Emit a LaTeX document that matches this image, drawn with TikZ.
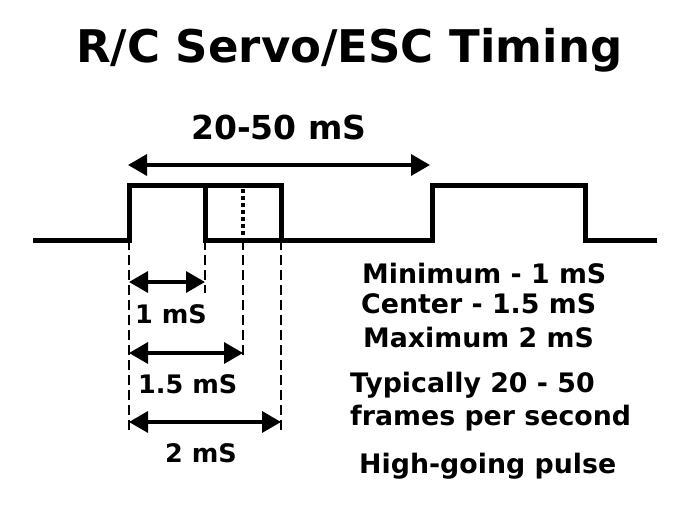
\documentclass[tikz,border=0pt]{standalone}
\usepackage{fontspec}
\setmainfont{DejaVu Sans}
\usetikzlibrary{arrows.meta,positioning}

\tikzset{
  wave/.style={line width=5pt, line join=miter},
  guide/.style={line width=1.5pt, dash pattern=on 10pt off 5pt},
  dim/.style={line width=3.5pt, {Triangle[length=19pt,width=21pt]}-{Triangle[length=19pt,width=21pt]}},
  lbl/.style={font=\bfseries\fontsize{25.5}{30}\selectfont, inner sep=0pt, anchor=base west},
  note/.style={lbl, font=\bfseries\fontsize{26.8}{30}\selectfont},
}

\begin{document}
\begin{tikzpicture}[x=1pt,y=-1pt]
  \useasboundingbox (0,0) rectangle (697,504);
  % time marks on the low level
  \coordinate (t0) at (129,240);
  \coordinate (t1) at (205,240);
  \coordinate (t15) at (243,240);
  \coordinate (t2) at (281,240);
  \coordinate (tf) at (432,240);
  % signal
  \draw[wave] (33,240) -- (t0) -- (129,185) -- (281,185) -- (t2);
  \draw[wave] (205,185) -- (t1) -- (tf) -- (432,185) -- (585,185) -- (585,240) -- (657,240);
  \draw[line width=3.5pt, dash pattern=on 4pt off 3pt] (243,189) -- (t15);
  % guides
  \coordinate (g0) at (129,432);
  \coordinate (g1) at (205,293);
  \coordinate (g15) at (243,357);
  \coordinate (g2) at (281,432);
  \draw[guide] (t0) -- (g0);
  \draw[guide] (t1) -- (g1);
  \draw[guide] (t15) -- (g15);
  \draw[guide] (t2) -- (g2);
  % widths
  \coordinate (f0) at (128,165);
  \coordinate (f1) at (430,165);
  \draw[dim] (f0) -- (f1);
  \draw[dim] (129,282) coordinate (a0) -- (205,282) coordinate (a1);
  \draw[dim] (129,353) coordinate (b0) -- (243,353) coordinate (b1);
  \draw[dim] (129,422) coordinate (c0) -- (281,422) coordinate (c1);
  % labels
  \node[lbl, font=\bfseries\fontsize{45}{50}\selectfont] (title) at (76,62) {R/C Servo/ESC Timing};
  \node[lbl, font=\bfseries\fontsize{33}{38}\selectfont] (frame) at (191,139) {20-50 mS};
  \node[lbl] (one) at (135,323) {1 mS};
  \node[lbl] (onehalf) at (138,393) {1.5 mS};
  \node[lbl] (two) at (165,462) {2 mS};
  \node[note] (min) at (362,283) {Minimum - 1 mS};
  \node[note] (cen) at (361,313) {Center - 1.5 mS};
  \node[note] (max) at (363,347) {Maximum 2 mS};
  \node[note] (typ) at (350,392) {Typically 20 - 50};
  \node[note] (fps) at (350,425) {frames per second};
  \node[note] (high) at (359,473) {High-going pulse};
\end{tikzpicture}
\end{document}
